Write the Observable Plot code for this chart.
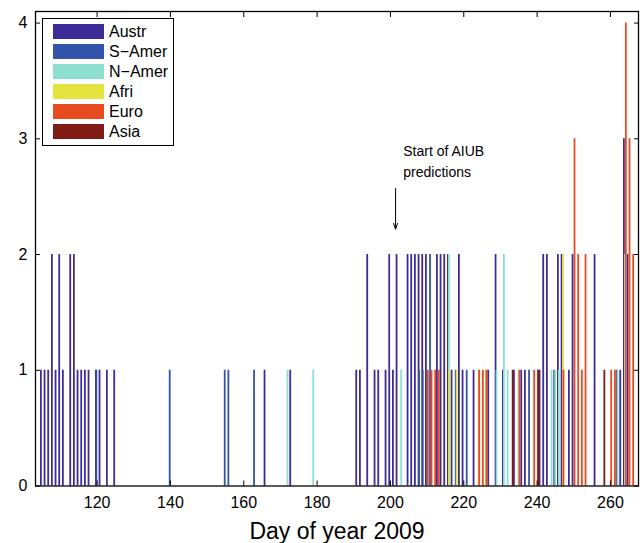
<!DOCTYPE html>
<html>
<head>
<meta charset="utf-8">
<script src="https://cdn.jsdelivr.net/npm/d3@7"></script>
<script src="https://cdn.jsdelivr.net/npm/@observablehq/plot@0.6"></script>
<style>
  body { margin: 0; background: #fff; }
  #chart { position: relative; width: 643px; height: 543px; font-family: "Liberation Sans", Arial, sans-serif; }
  #chart svg { display: block; }
  .legend { position: absolute; left: 42px; top: 18px; width: 132px; height: 128px; box-sizing: border-box;
            border: 1.5px solid #000; background: #fff; }
  .legend .row { position: absolute; left: 10px; height: 15px; display: flex; align-items: center; }
  .legend .sw { width: 51px; height: 15px; margin-right: 5px; }
  .legend .lab { font-size: 16px; line-height: 15px; color: #000; }
</style>
</head>
<body>
<div id="chart"></div>
<script>
// Regions and their bar colours
const regions = ["Austr", "S\u2212Amer", "N\u2212Amer", "Afri", "Euro", "Asia"];
const colors  = ["#3d2c97", "#3352aa", "#8de0cf", "#e3e43d", "#e84a21", "#801a15"];

// [day of year, number of events] per region
const austr = [[105,1],[106,1],[107,1],[108,2],[109,1],[110,2],[111,1],[113,2],[114,2],[115,1],[116,1],
  [117,1],[118,1],[120,1],[121,1],[123,1],[125,1],[166,1],[173,1],[191,1],[192,1],[194,2],[196,1],[197,1],
  [199,1],[200,2],[201,1],[202,2],[205,2],[206,2],[207,2],[208,2],[209,2],[210,2],[213,2],[214,2],[215,2],
  [216,2],[217,1],[219,2],[220,1],[223,1],[227,1],[229,2],[231,1],[234,1],[236,1],[237,1],[241,1],[242,2],
  [243,2],[245,1],[246,2],[247,2],[249,1],[250,2],[256,2],[262,1],[263,1],[264,3],[265,2]];
const sAmer = [[120,1],[140,1],[155,1],[156,1],[163,1],[208,1],[209,1],[211,2],[218,1],[221,1],[238,1]];
const nAmer = [[172,1],[179,1],[203,1],[216,2],[229,1],[231,2],[232,1],[235,1],[244,1],[245,1],[246,1],
  [262,1],[264,2]];
const afri  = [[216,1],[218,1],[224,1],[226,1],[247,2]];
const euro  = [[210,1],[211,1],[212,1],[213,1],[224,1],[225,1],[226,1],[235,1],[239,1],[240,1],[247,1],
  [250,3],[251,2],[252,1],[253,2],[260,1],[261,1],[264,4],[265,3],[266,2]];
const asia  = [[233,1],[240,1],[258,1]];

const series = [austr, sAmer, nAmer, afri, euro, asia];

// Axis ticks
const xTicks = [120, 140, 160, 180, 200, 220, 240, 260];
const yTicks = [0, 1, 2, 3, 4];

// Annotation marking the start of the predictions
const note = {text: "Start of AIUB\npredictions", day: 203.5, y: 2.98, arrowDay: 201.4, arrowFrom: 2.57, arrowTo: 2.22};

const rows = series.flatMap((s, i) => s.map(([day, n]) => ({day, n, region: regions[i], k: i})));

// Grouped bars: the six regions sit side by side inside each day's slot
const groupStep = 0.8 / 6;
const bars = regions.map((r, i) =>
  Plot.ruleX(rows.filter(d => d.k === i), {
    x: d => d.day + (i - 2.5) * groupStep,
    y1: 0, y2: "n", stroke: "region", strokeWidth: 1.8
  })
);

const chart = Plot.plot({
  width: 643, height: 543,
  marginLeft: 35, marginRight: 5, marginTop: 11, marginBottom: 57.5,
  style: {fontFamily: "Liberation Sans, Arial, sans-serif", fontSize: "16px", color: "#000", background: "#fff"},
  x: {domain: [103.2, 267.65]},
  y: {domain: [0, 4.1]},
  color: {domain: regions, range: colors},
  marks: [
    ...bars,
    Plot.axisX(xTicks, {anchor: "bottom", tickSize: -5, tickPadding: 16, tickFormat: "d", label: null, fontSize: 16}),
    Plot.axisX(xTicks, {anchor: "top", tickSize: -5, tickFormat: () => "", label: null}),
    Plot.axisY(yTicks, {anchor: "left", tickSize: -5, tickPadding: 13, tickFormat: "d", label: null, fontSize: 16}),
    Plot.axisY(yTicks, {anchor: "right", tickSize: -5, tickFormat: () => "", label: null}),
    Plot.frame({stroke: "#000", strokeWidth: 1.3}),
    Plot.arrow([note], {x1: "arrowDay", x2: "arrowDay", y1: "arrowFrom", y2: "arrowTo",
      stroke: "#000", strokeWidth: 1, headLength: 9, headAngle: 40}),
    Plot.text([note], {x: "day", y: "y", text: "text", textAnchor: "start", lineAnchor: "top",
      lineHeight: 1.5, fontSize: 14, fill: "#000"}),
    Plot.text(["Day of year 2009"], {frameAnchor: "bottom", dy: 53, fontSize: 23, fill: "#000"})
  ]
});

const root = document.getElementById("chart");
root.appendChild(chart);

// Legend box inside the axes
const legend = document.createElement("div");
legend.className = "legend";
regions.forEach((r, i) => {
  const row = document.createElement("div");
  row.className = "row";
  row.style.top = (5 + i * 20) + "px";
  const sw = document.createElement("div");
  sw.className = "sw";
  sw.style.background = colors[i];
  const lab = document.createElement("span");
  lab.className = "lab";
  lab.textContent = r;
  row.appendChild(sw);
  row.appendChild(lab);
  legend.appendChild(row);
});
root.appendChild(legend);
</script>
</body>
</html>
